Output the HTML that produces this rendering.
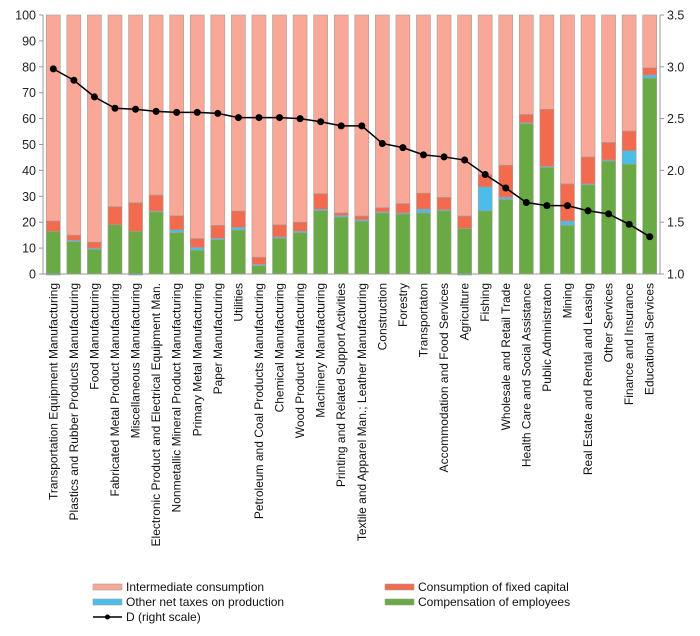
<!DOCTYPE html>
<html><head><meta charset="utf-8"><style>
body{margin:0;background:#fff;}
svg{display:block;font-family:"Liberation Sans",Arial,sans-serif;}
</style></head><body>
<svg id="chart" width="700" height="636"></svg>
<script>
const categories=["Transportation Equipment Manufacturing","Plastics and Rubber Products Manufacturing","Food Manufacturing","Fabricated Metal Product Manufacturing","Miscellaneous Manufacturing","Electronic Product and Electrical Equipment Man.","Nonmetallic Mineral Product Manufacturing","Primary Metal Manufacturing","Paper Manufacturing","Utilities","Petroleum and Coal Products Manufacturing","Chemical Manufacturing","Wood Product Manufacturing","Machinery Manufacturing","Printing and Related Support Activities","Textile and Apparel Man.; Leather Manufacturing","Construction","Forestry","Transportaton","Accommodation and Food Services","Agriculture","Fishing","Wholesale and Retail Trade","Health Care and Social Assistance","Public Administraton","Mining","Real Estate and Rental and Leasing","Other Services","Finance and Insurance","Educational Services"];
const compensation=[16.5,12.5,9.5,19,16.5,24,16,9.2,13.3,17,3.2,13.8,16,24.5,22,20.4,23.6,23.2,23.6,24.4,17.6,24.4,28.8,58,41.2,18.8,34.4,43.6,42.4,75.6];
const taxes=[-0.4,0.5,0.5,0,-0.4,0.3,1,1,0.5,1,0.5,0.5,0.5,0.5,0.6,0.5,0.4,0.4,1.4,0.4,-0.4,9.2,0.8,0.4,0.4,1.6,0.4,0.4,5.2,1.2];
const fixedCapital=[4,2,2.3,7,11,6.2,5.5,3.5,5,6.3,2.8,4.7,3.5,6,1,1.5,1.6,3.6,6.2,4.8,4.8,4.8,12.4,3.2,22,14.4,10.4,6.8,7.6,2.8];
const dValues=[2.98,2.87,2.71,2.6,2.59,2.57,2.56,2.56,2.55,2.51,2.51,2.51,2.5,2.47,2.43,2.43,2.26,2.22,2.15,2.13,2.1,1.96,1.83,1.69,1.66,1.66,1.61,1.58,1.48,1.36];
const leftTicks=[0,10,20,30,40,50,60,70,80,90,100];
const rightTicks=[1.0,1.5,2.0,2.5,3.0,3.5];

const NS="http://www.w3.org/2000/svg";
const svg=document.getElementById('chart');
const L=43,R=660,T=15,B=274;
const slot=(R-L)/categories.length, bw=14;
const y=v=>B-(v/100)*(B-T);
const y2=v=>B-((v-1)/2.5)*(B-T);
const xc=i=>L+slot*(i+0.5);
function mk(tag,attrs,parent){const e=document.createElementNS(NS,tag);for(const k in attrs)e.setAttribute(k,attrs[k]);(parent||svg).appendChild(e);return e;}

const bars=mk('g',{});


categories.forEach((c,i)=>{
  const g=mk('g',{},bars);
  
  
  const x=xc(i)-bw/2;
  const c0=compensation[i], t=taxes[i], f=fixedCapital[i];
  const segs=[];
  if(t<0){segs.push([t,0,'#4BBDE8','taxes']);segs.push([0,c0,'#6AAA45','compensation']);segs.push([c0,c0+f,'#F26B4F','fixed-capital']);segs.push([c0+f,100,'#F9A796','intermediate']);}
  else{segs.push([0,c0,'#6AAA45','compensation']);segs.push([c0,c0+t,'#4BBDE8','taxes']);segs.push([c0+t,c0+t+f,'#F26B4F','fixed-capital']);segs.push([c0+t+f,100,'#F9A796','intermediate']);}
  segs.forEach(s=>{
    if(s[1]-s[0]<=0)return;
    const r=mk('rect',{x:x,y:y(s[1]),width:bw,height:y(s[0])-y(s[1]),fill:s[2],stroke:'#a0a0a0','stroke-width':0.6},g);
    
    
  });
});

const ax=mk('g',{stroke:'#999','stroke-width':1});


mk('line',{x1:L,y1:T,x2:L,y2:B},ax);
mk('line',{x1:L,y1:B,x2:R,y2:B},ax);
mk('line',{x1:R,y1:T,x2:R,y2:B},ax);
leftTicks.forEach(v=>{
  mk('line',{x1:L-4,y1:y(v),x2:L,y2:y(v)},ax);
  const t=mk('text',{x:L-7,y:y(v)+4.5,'text-anchor':'end','font-size':12.5,fill:'#222',stroke:'none'});
  t.textContent=v;
  
  
});
rightTicks.forEach(v=>{
  mk('line',{x1:R,y1:y2(v),x2:R+4,y2:y2(v)},ax);
  const t=mk('text',{x:R+7,y:y2(v)+4.5,'font-size':12.5,fill:'#222',stroke:'none'});
  t.textContent=v.toFixed(1);
  
  
});
categories.forEach((c,i)=>{
  const t=mk('text',{transform:`translate(${xc(i)+4},283) rotate(-90)`,'text-anchor':'end','font-size':12,fill:'#111'});
  t.textContent=c;
  
  
});

const pts=dValues.map((d,i)=>xc(i)+','+y2(d)).join(' ');
const pl=mk('polyline',{points:pts,fill:'none',stroke:'#000','stroke-width':1.5});


dValues.forEach((d,i)=>{
  const c=mk('circle',{cx:xc(i),cy:y2(d),r:3.5,fill:'#000'});
  
  
});

const lg=mk('g',{});


const legendItems=[[93,587,'#F9A796','Intermediate consumption'],[385,587,'#F26B4F','Consumption of fixed capital'],[93,602,'#4BBDE8','Other net taxes on production'],[385,602,'#6AAA45','Compensation of employees']];
legendItems.forEach(it=>{
  const e=mk('g',{},lg);
  
  
  mk('rect',{x:it[0],y:it[1]-3,width:29,height:6,fill:it[2],stroke:'#a0a0a0','stroke-width':0.6},e);
  const t=mk('text',{x:it[0]+33,y:it[1]+4,'font-size':12,fill:'#111'},e);
  t.textContent=it[3];
});
const de=mk('g',{},lg);


mk('line',{x1:93,y1:617,x2:122,y2:617,stroke:'#000','stroke-width':1.5},de);
mk('circle',{cx:107.5,cy:617,r:2.5,fill:'#000'},de);
const dt=mk('text',{x:126,y:621,'font-size':12,fill:'#111'},de);
dt.textContent='D (right scale)';
</script>
</body></html>
